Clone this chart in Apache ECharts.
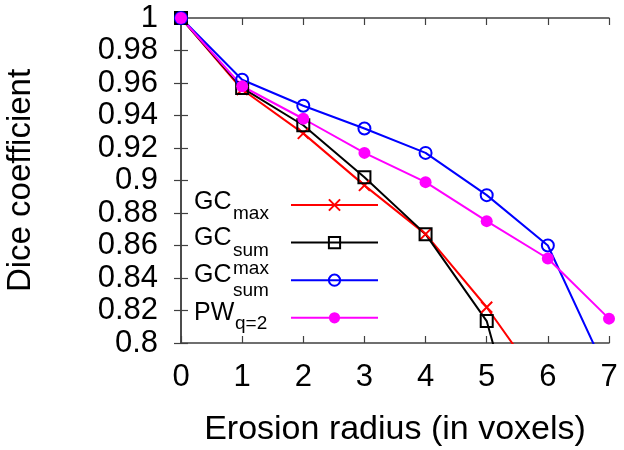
<!DOCTYPE html>
<html>
<head>
<meta charset="utf-8">
<script src="https://cdn.jsdelivr.net/npm/echarts@6/dist/echarts.min.js"></script>
<style>html,body{margin:0;padding:0;background:#fff}#c{width:624px;height:450px}</style>
</head>
<body>
<div id="c"></div>
<script>
const xValues = [0, 1, 2, 3, 4, 5, 6, 7];
const gcMax = [1, 0.956, 0.929, 0.897, 0.867, 0.822, 0.769];
const gcSum = [1, 0.957, 0.934, 0.902, 0.867, 0.8135, 0.678];
const gcSumMax = [1, 0.962, 0.946, 0.932, 0.917, 0.891, 0.860, 0.779];
const pwQ2 = [1, 0.958, 0.938, 0.917, 0.899, 0.875, 0.852, 0.815];
const seriesNames = ['GC_max', 'GC_sum', 'GC_sum^max', 'PW_q=2'];

const FONT = 'Liberation Sans, Arial, sans-serif';
const AX = '#404040';
const pair = arr => arr.map((v, i) => [xValues[i], v]);

const chart = echarts.init(document.getElementById('c'), null, {renderer: 'canvas'});

function mkSeries(name, data, color, symbol, filled, size) {
  return {
    name, type: 'line', data: pair(data), clip: true,
    symbol, symbolSize: size, showAllSymbol: true,
    lineStyle: {color, width: 2, type: 'solid'},
    itemStyle: filled ? {color, borderColor: color, borderWidth: 0}
                      : {color: 'rgba(255,255,255,0)', borderColor: color, borderWidth: 2},
    emphasis: {disabled: true}, animation: false
  };
}

const axisCommon = {
  axisLine: {show: true, lineStyle: {color: AX, width: 1.5}},
  axisTick: {show: true, inside: true, length: 7, lineStyle: {color: AX, width: 1.2}},
  splitLine: {show: false}
};

// label text: main word, subscript, optional superscript; baselines per row
const legendLabels = [
  {main: 'GC', sub: 'max', sup: null, base: 211, subBase: 218},
  {main: 'GC', sub: 'sum', sup: null, base: 247, subBase: 255},
  {main: 'GC', sub: 'sum', sup: 'max', base: 284, subBase: 295, supBase: 273},
  {main: 'PW', sub: 'q=2', sup: null, base: 322, subBase: 328}
];
const graphics = [];
legendLabels.forEach(l => {
  const x0 = 194;
  const mainW = l.main === 'GC' ? 39 : 41;
  graphics.push({type: 'text', left: x0, top: l.base - 21, silent: true,
    style: {text: l.main, font: '25px ' + FONT, fill: '#000'}});
  graphics.push({type: 'text', left: x0 + mainW, top: l.subBase - 14, silent: true,
    style: {text: l.sub, font: '19px ' + FONT, fill: '#000'}});
  if (l.sup) {
    graphics.push({type: 'text', left: x0 + mainW, top: l.supBase - 14, silent: true,
      style: {text: l.sup, font: '19px ' + FONT, fill: '#000'}});
  }
});

chart.setOption({
  animation: false,
  backgroundColor: '#fff',
  grid: {left: 181, right: 15, top: 18, bottom: 107, containLabel: false, outerBoundsMode: 'none'},
  legend: {
    show: true, orient: 'vertical', left: 285, top: 193,
    itemWidth: 87, itemHeight: 14, itemGap: 24,
    formatter: () => '', selectedMode: false,
    data: seriesNames
  },
  xAxis: [
    Object.assign({type: 'value', min: 0, max: 7, interval: 1, position: 'bottom',
      name: 'Erosion radius (in voxels)', nameLocation: 'middle', nameGap: 70,
      nameTextStyle: {fontFamily: FONT, fontSize: 34, color: '#000'},
      axisLabel: {margin: 19, fontFamily: FONT, fontSize: 31, color: '#000'}}, axisCommon),
    Object.assign({type: 'value', min: 0, max: 7, interval: 1, position: 'top',
      axisLabel: {show: false}}, axisCommon)
  ],
  yAxis: [
    Object.assign({type: 'value', min: 0.8, max: 1, interval: 0.02, position: 'left',
      name: 'Dice coefficient', nameLocation: 'middle', nameGap: 144, nameRotate: 90,
      nameTextStyle: {fontFamily: FONT, fontSize: 33, color: '#000'},
      axisLabel: {margin: 23, fontFamily: FONT, fontSize: 31, color: '#000',
        formatter: v => String(Math.round(v * 100) / 100)}}, axisCommon),
    Object.assign({type: 'value', min: 0.8, max: 1, interval: 0.02, position: 'right',
      axisLabel: {show: false}}, axisCommon)
  ],
  series: [
    mkSeries('GC_max', gcMax, '#ff0000', 'path://M0,0L10,10M10,0L0,10', false, 11),
    mkSeries('GC_sum', gcSum, '#000000', 'rect', false, 12),
    mkSeries('GC_sum^max', gcSumMax, '#0000ff', 'circle', false, 12),
    mkSeries('PW_q=2', pwQ2, '#ff00ff', 'circle', true, 12)
  ],
  graphic: graphics
});
</script>
</body>
</html>
